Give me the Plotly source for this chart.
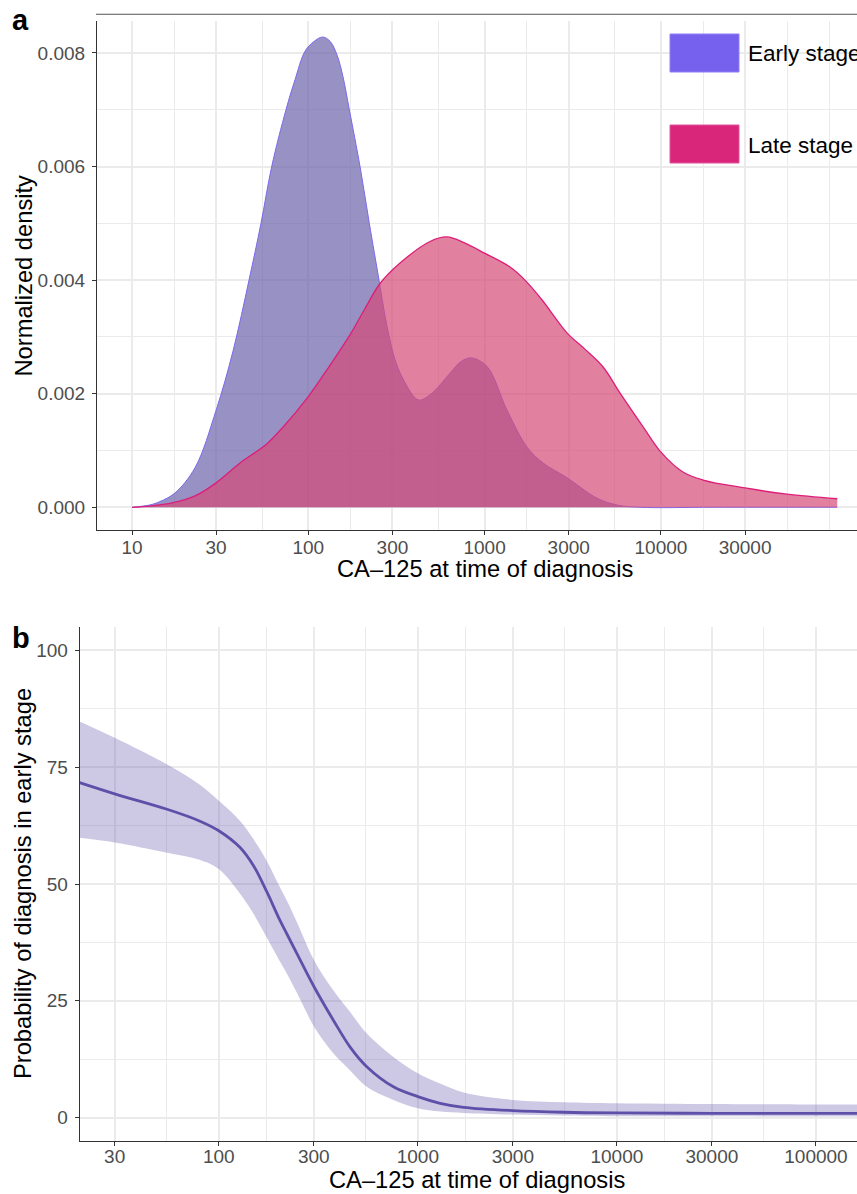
import plotly.graph_objects as go

# ---------------- data ----------------
# Panel a: density of CA-125 (log scale) by stage
early_x = [10, 12.6, 14.4, 17.5, 22.8, 30, 37.4, 46.1, 53.9, 62.0, 74.7, 84.1, 95.8,
           107.6, 120.7, 133.3, 146.0, 157.3, 170.9, 196.5, 221.8, 251.8, 268.8, 283.2,
           310.3, 345.9, 420.7, 490, 636.6, 730, 837.3, 1031.8, 1340, 1740, 2145, 2934,
           4341, 5637, 7610, 20000, 100000]
early_y = [0, 0.00004, 0.0001, 0.00025, 0.0007, 0.00171, 0.00275, 0.0040, 0.0050,
           0.0060, 0.0070, 0.00753, 0.00803, 0.0082, 0.00828, 0.0082, 0.00795, 0.00758,
           0.0070, 0.0060, 0.0050, 0.0040, 0.00347, 0.0031, 0.0026, 0.00225, 0.00189,
           0.00198, 0.00236, 0.00256, 0.00263, 0.00248, 0.00171, 0.00106, 0.00078,
           0.00052, 0.00016, 0.00004, 0, 0, 0]

late_x = [10, 12.6, 17.1, 22.8, 30, 41.0, 58.3, 71.8, 100, 132.7, 172.6, 209.7, 255.1,
          331.3, 490, 612, 774, 1005, 1393, 1694, 2118, 2931, 3716, 4698, 5866, 7907,
          10000, 13330, 17330, 30000, 51900, 100000]
late_y = [0, 0.00002, 0.00008, 0.0002, 0.00043, 0.00078, 0.00112, 0.00141, 0.00195,
          0.0025, 0.00304, 0.0035, 0.00394, 0.0043, 0.00468, 0.00476, 0.00465, 0.00447,
          0.00423, 0.0040, 0.00365, 0.00307, 0.00278, 0.00247, 0.00201, 0.00142,
          0.00097, 0.00062, 0.00048, 0.00034, 0.00023, 0.00015]

# Panel b: probability (%) of diagnosis in early stage with confidence band
prob_x = [20, 30, 55, 80, 100, 128, 150, 174, 203, 220, 247, 302, 377, 457, 554, 754,
          1000, 1294, 1700, 3000, 5400, 10000, 30000, 100000, 170000]
prob_fit = [71.7, 69.3, 66.0, 63.5, 61.4, 57.8, 53.8, 48.4, 42.2, 39.3, 35.1, 27.9, 20.8,
            15.1, 10.9, 6.6, 4.5, 3.07, 2.2, 1.5, 1.15, 1.0, 0.93, 0.9, 0.9]
prob_hi = [84.8, 81.3, 75.6, 71.3, 67.8, 63.5, 59.5, 55.0, 49.3, 46.4, 41.8, 33.6, 27.2,
           22.6, 18.0, 13.0, 9.5, 7.3, 5.4, 3.8, 3.3, 3.07, 2.9, 2.8, 2.8]
prob_lo = [59.9, 58.9, 56.7, 55.2, 53.2, 47.9, 43.5, 38.6, 33.4, 30.8, 26.7, 19.4, 13.7,
           10.1, 6.6, 3.8, 2.0, 1.3, 1.0, 0.65, 0.45, 0.3, 0.27, 0.25, 0.25]

top_xticks = [10, 30, 100, 300, 1000, 3000, 10000, 30000]
top_xminor = [17.32, 54.77, 173.2, 547.7, 1732, 5477, 17320, 51960, 89950]
top_yticks = [0, 0.002, 0.004, 0.006, 0.008]
top_yminor = [0.001, 0.003, 0.005, 0.007]
bot_xticks = [30, 100, 300, 1000, 3000, 10000, 30000, 100000]
bot_xminor = [54.77, 173.2, 547.7, 1732, 5477, 17320, 54770]
bot_yticks = [0, 25, 50, 75, 100]
bot_yminor = [12.5, 37.5, 62.5, 87.5]

# ---------------- figure ----------------
W, H = 857, 1194
FONT = "Liberation Sans, Arial, Helvetica, sans-serif"
GRID = "#EBEBEB"
AXIS = "#333333"
TICKC = "#4D4D4D"


def fx(p):
    return p / W


def fy(p):
    return 1 - p / H


fig = go.Figure()

fig.add_trace(go.Scatter(
    x=early_x, y=early_y, mode="lines", name="Early stage",
    line=dict(color="#7B68EE", width=1, shape="spline", smoothing=1.0),
    fill="tozeroy", fillcolor="rgba(108,99,171,0.70)",
    xaxis="x", yaxis="y", showlegend=False, hoverinfo="x+y"))
fig.add_trace(go.Scatter(
    x=late_x, y=late_y, mode="lines", name="Late stage",
    line=dict(color="#DC1E78", width=1.3, shape="spline", smoothing=1.0),
    fill="tozeroy", fillcolor="rgba(214,74,119,0.70)",
    xaxis="x", yaxis="y", showlegend=False, hoverinfo="x+y"))

fig.add_trace(go.Scatter(
    x=prob_x, y=prob_lo, mode="lines", line=dict(width=0, shape="spline", smoothing=1.0),
    xaxis="x2", yaxis="y2", showlegend=False, hoverinfo="skip"))
fig.add_trace(go.Scatter(
    x=prob_x, y=prob_hi, mode="lines", line=dict(width=0, shape="spline", smoothing=1.0),
    fill="tonexty", fillcolor="rgba(94,80,168,0.31)",
    xaxis="x2", yaxis="y2", showlegend=False, hoverinfo="skip"))
fig.add_trace(go.Scatter(
    x=prob_x, y=prob_fit, mode="lines",
    line=dict(color="#5E50A8", width=2.8, shape="spline", smoothing=1.0),
    xaxis="x2", yaxis="y2", showlegend=False))

tickfont = dict(family=FONT, size=19, color=TICKC)


def xaxis_cfg(domain, rng, ticks, minor, anchor, standoff):
    return dict(
        type="log", domain=domain, range=rng, anchor=anchor,
        tickmode="array", tickvals=ticks, ticktext=[str(t) for t in ticks],
        showgrid=True, gridcolor=GRID, gridwidth=1.6,
        minor=dict(tickmode="array", tickvals=minor, showgrid=True,
                   gridcolor=GRID, gridwidth=0.9, ticks=""),
        showline=True, linecolor=AXIS, linewidth=1.1, mirror=False,
        ticks="outside", ticklen=4, tickwidth=1.1, tickcolor=AXIS,
        ticklabelstandoff=standoff,
        tickfont=tickfont, zeroline=False, automargin=False)


def yaxis_cfg(domain, rng, ticks, labels, minor, anchor):
    return dict(
        domain=domain, range=rng, anchor=anchor,
        tickmode="array", tickvals=ticks, ticktext=labels,
        showgrid=True, gridcolor=GRID, gridwidth=1.6,
        minor=dict(tickmode="array", tickvals=minor, showgrid=True,
                   gridcolor=GRID, gridwidth=0.9, ticks=""),
        showline=True, linecolor=AXIS, linewidth=1.1, mirror=False,
        ticks="outside", ticklen=4, tickwidth=1.1, tickcolor=AXIS,
        ticklabelstandoff=3,
        tickfont=tickfont, zeroline=False, automargin=False)


fig.update_layout(
    template="none",
    width=W, height=H, autosize=False,
    margin=dict(l=0, r=0, t=0, b=0, pad=0),
    paper_bgcolor="white", plot_bgcolor="white",
    font=dict(family=FONT, color="black"),
    showlegend=False,
    xaxis=xaxis_cfg([fx(97), 1.0], [0.8015, 5.112], top_xticks, top_xminor, "y", -4),
    yaxis=yaxis_cfg([fy(530), fy(21)], [-0.0004, 0.008562], top_yticks,
                    ["%.3f" % v for v in top_yticks], top_yminor, "x"),
    xaxis2=xaxis_cfg([fx(79.7), 1.0], [1.3015, 5.206], bot_xticks, bot_xminor, "y2", -6),
    yaxis2=yaxis_cfg([fy(1141), fy(627)], [-5, 105], bot_yticks,
                     [str(v) for v in bot_yticks], bot_yminor, "x2"),
)

shapes = [
    # thin rule above panel a
    dict(type="line", xref="paper", yref="paper", x0=fx(96), x1=1.0,
         y0=fy(14.3), y1=fy(14.3), line=dict(color="#555555", width=1.1)),
    # legend keys
    dict(type="rect", xref="paper", yref="paper", x0=fx(670), x1=fx(739),
         y0=fy(72), y1=fy(34), fillcolor="#7660EE",
         line=dict(color="#8E80F2", width=1)),
    dict(type="rect", xref="paper", yref="paper", x0=fx(670), x1=fx(739),
         y0=fy(163), y1=fy(125), fillcolor="#D9267A",
         line=dict(color="#E2559A", width=1)),
]
fig.update_layout(shapes=shapes)

annotations = [
    dict(text="Early stage", x=fx(746), y=fy(54), xref="paper", yref="paper",
         xanchor="left", yanchor="middle", showarrow=False,
         font=dict(family=FONT, size=22.5, color="black")),
    dict(text="Late stage", x=fx(746), y=fy(145), xref="paper", yref="paper",
         xanchor="left", yanchor="middle", showarrow=False,
         font=dict(family=FONT, size=22.5, color="black")),
    dict(text="CA–125 at time of diagnosis", x=fx(485), y=fy(569),
         xref="paper", yref="paper", xanchor="center", yanchor="middle",
         showarrow=False, font=dict(family=FONT, size=23.7, color="black")),
    dict(text="CA–125 at time of diagnosis", x=fx(476.5), y=fy(1180),
         xref="paper", yref="paper", xanchor="center", yanchor="middle",
         showarrow=False, font=dict(family=FONT, size=23.7, color="black")),
    dict(text="Normalized density", x=fx(23), y=fy(275.5), textangle=-90,
         xref="paper", yref="paper", xanchor="center", yanchor="middle",
         showarrow=False, font=dict(family=FONT, size=23.7, color="black")),
    dict(text="Probability of diagnosis in early stage", x=fx(23), y=fy(884),
         textangle=-90, xref="paper", yref="paper", xanchor="center",
         yanchor="middle", showarrow=False,
         font=dict(family=FONT, size=23.7, color="black")),
    dict(text="<b>a</b>", x=fx(10), y=fy(20), xref="paper", yref="paper",
         xanchor="left", yanchor="middle", showarrow=False,
         font=dict(family=FONT, size=29, color="black")),
    dict(text="<b>b</b>", x=fx(10), y=fy(638), xref="paper", yref="paper",
         xanchor="left", yanchor="middle", showarrow=False,
         font=dict(family=FONT, size=29, color="black")),
]
fig.update_layout(annotations=annotations)

fig.write_html(
    "out.html",
    config={"displayModeBar": False},
    post_script="document.body.style.margin='0px';document.body.style.overflow='hidden';")
